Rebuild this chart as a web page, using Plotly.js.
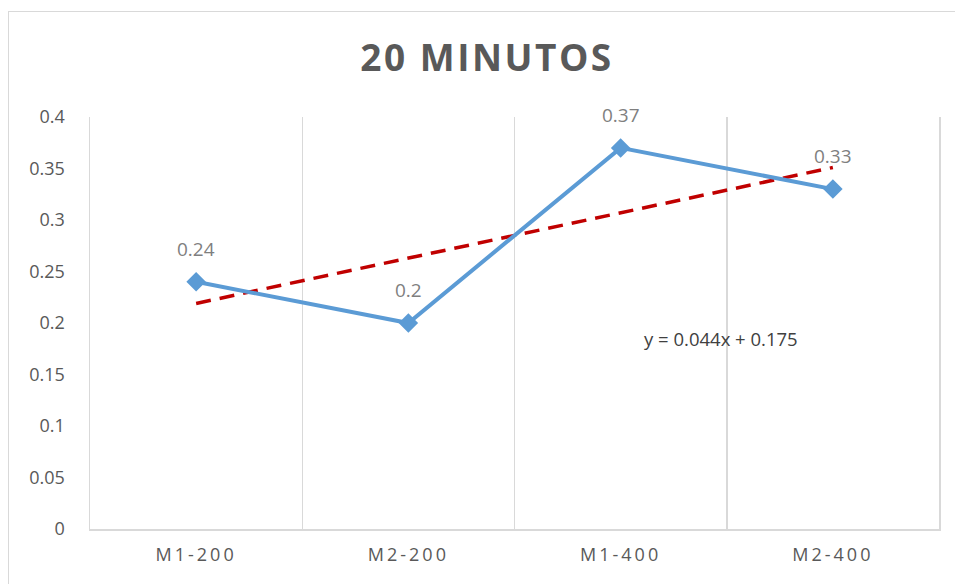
<!DOCTYPE html>
<html>
<head>
<meta charset="utf-8">
<script src="https://cdn.plot.ly/plotly-3.0.1.min.js"></script>
<style>
  html, body { margin: 0; padding: 0; width: 955px; height: 584px; overflow: hidden; background: #fff; }
  #frame { position: absolute; left: 8px; top: 11px; width: 1000px; height: 700px; border: 1px solid #D9D9D9; box-sizing: border-box; }
  #chart { position: absolute; left: 0; top: 0; width: 955px; height: 584px; }
  #chart .xtick text { letter-spacing: 3px; }
  #chart .gtitle { letter-spacing: 2.5px; }
</style>
</head>
<body>
<div id="frame"></div>
<div id="chart"></div>
<script>
// Series: 20-minute readings per sample
const categories = ['M1-200', 'M2-200', 'M1-400', 'M2-400'];
const values = [0.24, 0.2, 0.37, 0.33];

// Linear trendline y = slope * n + intercept (n = 1..4)
const trendSlope = 0.044;
const trendIntercept = 0.175;
const trendLabel = 'y = 0.044x + 0.175';

const yTicks = [0, 0.05, 0.1, 0.15, 0.2, 0.25, 0.3, 0.35, 0.4];

const trendValues = categories.map((_, i) => trendSlope * (i + 1) + trendIntercept);

const FONT = 'Open Sans, Liberation Sans, sans-serif';

const series = {
  x: categories,
  y: values,
  type: 'scatter',
  mode: 'lines+markers',
  line: { color: '#5B9BD5', width: 4 },
  marker: { symbol: 'diamond', size: 15, color: '#5B9BD5' },
  hoverinfo: 'skip',
  showlegend: false
};

const trend = {
  x: categories,
  y: trendValues,
  type: 'scatter',
  mode: 'lines',
  line: { color: '#C00000', width: 3.5, dash: '15px,9px' },
  hoverinfo: 'skip',
  showlegend: false
};

const labels = categories.map((c, i) => ({
  x: c,
  y: values[i],
  text: String(values[i]),
  showarrow: false,
  yshift: 33,
  font: { family: FONT, size: 19, color: '#7F7F7F' }
}));

// Trendline equation, placed in the M1-400 / M2-400 area
labels.push({
  x: 2.1,
  y: 0.185,
  xref: 'x',
  yref: 'y',
  text: trendLabel,
  showarrow: false,
  xanchor: 'left',
  font: { family: FONT, size: 18.5, color: '#404040' }
});

const layout = {
  width: 955,
  height: 584,
  margin: { l: 90, r: 16, t: 117, b: 55 },
  paper_bgcolor: 'rgba(0,0,0,0)',
  plot_bgcolor: 'rgba(0,0,0,0)',
  title: {
    text: '<b>20 MINUTOS</b>',
    x: 0.51,
    xanchor: 'center',
    y: 0.9,
    yanchor: 'middle',
    font: { family: FONT, size: 37, color: '#595959' }
  },
  xaxis: {
    type: 'category',
    range: [-0.5, 3.5],
    tickson: 'boundaries',
    showgrid: true,
    gridcolor: '#D9D9D9',
    gridwidth: 1.5,
    showline: true,
    linecolor: '#D9D9D9',
    linewidth: 1.5,
    ticks: '',
    tickfont: { family: FONT, size: 18, color: '#595959' },
    ticklabelstandoff: 9,
    fixedrange: true
  },
  yaxis: {
    range: [0, 0.4],
    tickvals: yTicks,
    ticktext: yTicks.map(String),
    showgrid: false,
    zeroline: false,
    showline: true,
    mirror: true,
    linecolor: '#D9D9D9',
    linewidth: 1.5,
    ticks: '',
    tickfont: { family: FONT, size: 18, color: '#595959' },
    ticklabelstandoff: 20,
    fixedrange: true
  },
  annotations: labels
};

Plotly.newPlot('chart', [trend, series], layout, { displayModeBar: false, staticPlot: true });
</script>
</body>
</html>
